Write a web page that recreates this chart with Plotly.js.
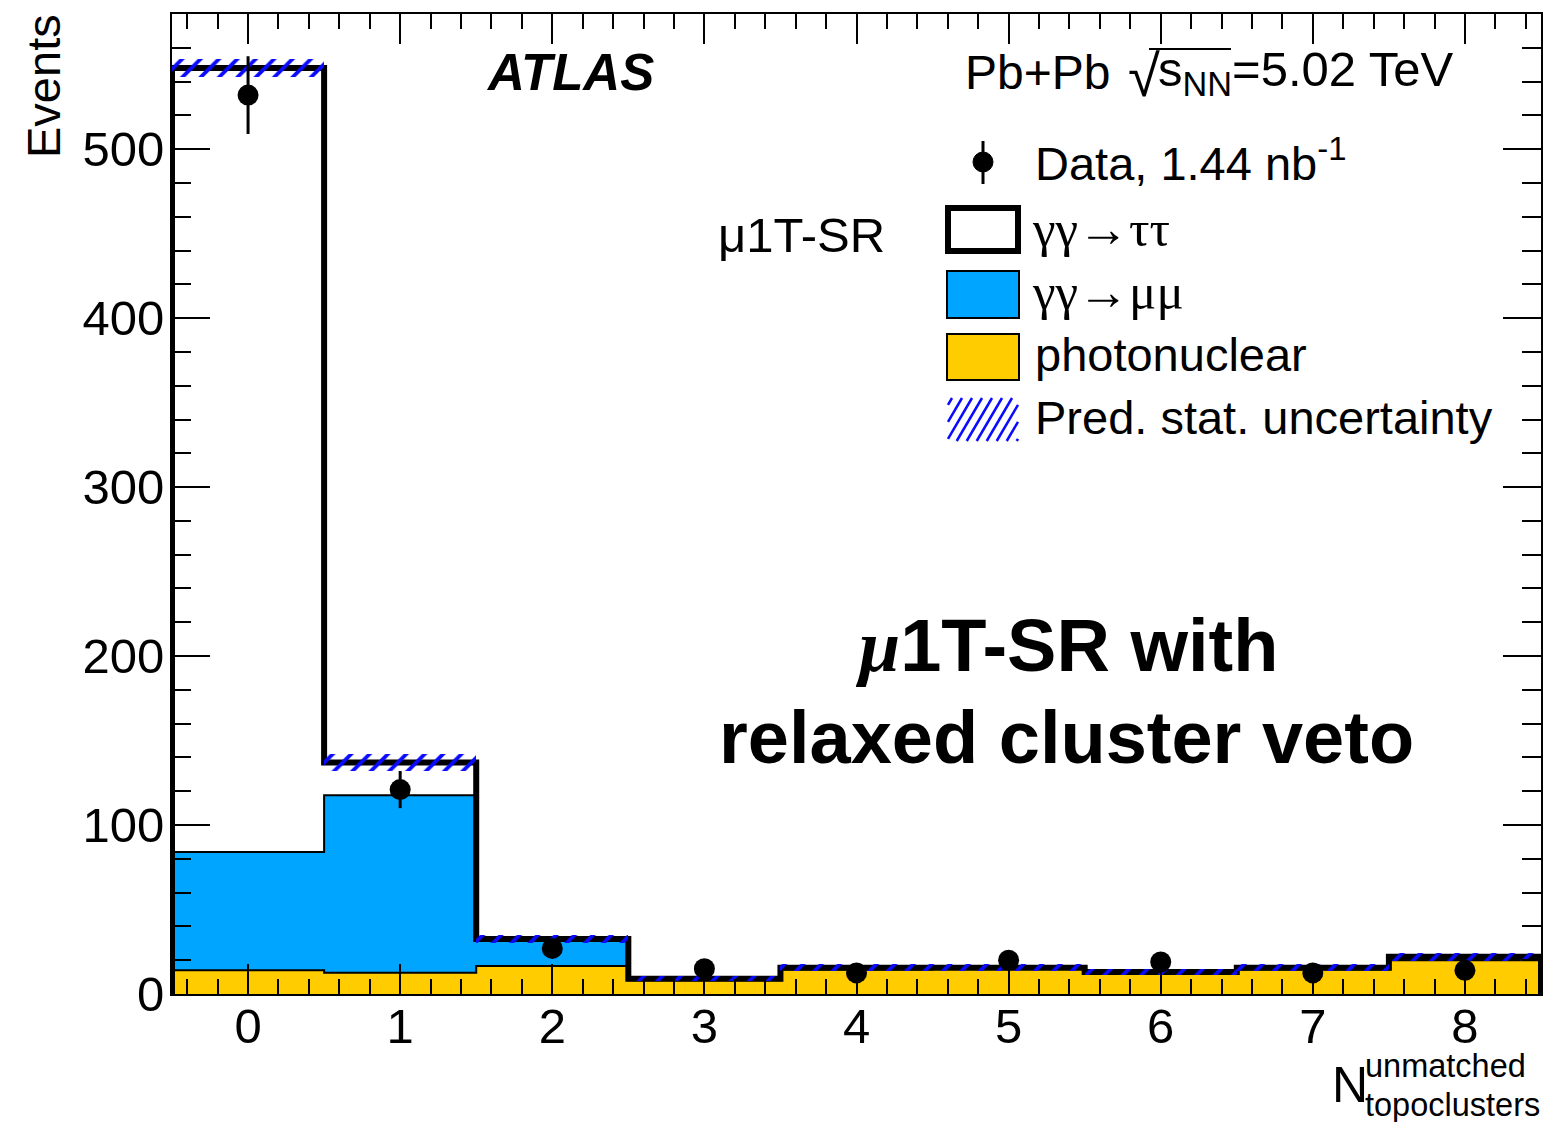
<!DOCTYPE html>
<html>
<head>
<meta charset="utf-8">
<script src="https://cdn.plot.ly/plotly-3.0.1.min.js"></script>
<style>html,body{margin:0;padding:0;background:#fff;}#chart{width:1547px;height:1122px;}</style>
</head>
<body>
<div id="chart"></div>
<script>
// ---- data ----
const bins = [0, 1, 2, 3, 4, 5, 6, 7, 8];
const photonuclear = [14, 12.6, 16.5, 8.2, 14.5, 15, 12.3, 14.5, 20];
const mumu = [70, 105, 15.5, 0.4, 0.5, 0.3, 0.4, 0.5, 1];
const tautau = [464, 19.4, 0.5, 0.4, 0.5, 0.2, 0.3, 0.5, 1];
const dataCounts = [532, 121, 27, 15, 12.5, 20, 19, 12.5, 14];
const dataErr = [23, 11, 5.2, 3.9, 3.5, 4.5, 4.4, 3.5, 3.7];
const predStatUnc = [5.3, 5, 2.5, 1.5, 2, 2, 2, 2, 2.5];
const yTickVals = [0, 100, 200, 300, 400, 500];

// ---- derived stacks ----
const lvl1 = photonuclear.slice();
const lvl2 = photonuclear.map((v, i) => v + mumu[i]);
const lvl3 = lvl2.map((v, i) => v + tautau[i]);
const uncBase = lvl3.map((v, i) => v - predStatUnc[i]);
const uncSize = predStatUnc.map(v => 2 * v);

function stepLine(vals) {
  const xs = [bins[0] - 0.5, bins[0] - 0.5];
  const ys = [0, vals[0]];
  for (let i = 1; i < bins.length; i++) { xs.push(bins[i] - 0.5); ys.push(vals[i]); }
  xs.push(bins[bins.length - 1] + 0.5); ys.push(vals[vals.length - 1]);
  xs.push(bins[bins.length - 1] + 0.5); ys.push(0);
  return {xs, ys};
}

const FONT = 'Liberation Sans, Arial, Helvetica, sans-serif';
const SERIF = 'Liberation Serif, Times New Roman, serif';
const BLUE = '#00a5ff';
const YELLOW = '#ffcc00';
const HATCH = '#0a0aff';

const s1 = stepLine(lvl1), s2 = stepLine(lvl2), s3 = stepLine(lvl3);

const traces = [
  {type: 'bar', x: bins, y: photonuclear, base: bins.map(() => 0), width: 1,
   marker: {color: YELLOW, line: {width: 0}}, name: 'photonuclear', hoverinfo: 'skip'},
  {type: 'bar', x: bins, y: mumu, base: lvl1, width: 1,
   marker: {color: BLUE, line: {width: 0}}, name: 'γγ→μμ', hoverinfo: 'skip'},
  {type: 'bar', x: bins, y: tautau, base: lvl2, width: 1,
   marker: {color: '#ffffff', line: {width: 0}}, name: 'γγ→ττ', hoverinfo: 'skip'},
  {type: 'scatter', mode: 'lines', x: s1.xs, y: s1.ys, line: {color: 'black', width: 2, shape: 'hv'}, hoverinfo: 'skip'},
  {type: 'scatter', mode: 'lines', x: s2.xs, y: s2.ys, line: {color: 'black', width: 2, shape: 'hv'}, hoverinfo: 'skip'},
  {type: 'scatter', mode: 'lines', x: s3.xs, y: s3.ys, line: {color: 'black', width: 6, shape: 'hv'}, hoverinfo: 'skip'},
  {type: 'bar', x: bins, y: uncSize, base: uncBase, width: 1, xaxis: 'x2', yaxis: 'y2',
   marker: {color: 'rgba(0,0,0,0)', line: {width: 0},
            pattern: {shape: '/', fgcolor: HATCH, fgopacity: 1, bgcolor: 'rgba(0,0,0,0)', size: 13, solidity: 0.3, fillmode: 'overlay'}},
   name: 'Pred. stat. uncertainty', hoverinfo: 'skip'},
  {type: 'scatter', mode: 'markers', x: bins, y: dataCounts, xaxis: 'x2', yaxis: 'y2',
   marker: {color: 'black', size: 21},
   error_y: {type: 'data', array: dataErr, visible: true, color: 'black', thickness: 3, width: 0},
   name: 'Data', cliponaxis: false, hoverinfo: 'skip'}
];

// pixel -> paper helpers (plot area 172..1541 x 14..994)
const L = 172, R = 1541, T = 14, B = 994;
const px = x => (x - L) / (R - L);
const py = y => (B - y) / (B - T);

const ann = (text, x, y, size, opts = {}) => Object.assign({
  text: text, xref: 'paper', yref: 'paper', x: px(x), y: py(y),
  xanchor: 'left', yanchor: 'middle', showarrow: false,
  font: {family: FONT, size: size, color: 'black'}
}, opts);

const annotations = [
  ann('<b><i>ATLAS</i></b>', 570, 73, 51, {xanchor: 'center'}),
  ann('Pb+Pb', 963, 73, 48),
  ann('√', 1126, 76, 58),
  ann('s<sub>NN</sub>=5.02 TeV', 1156, 73, 49),
  ann('Data, 1.44 nb<sup>-1</sup>', 1033, 160, 47),
  ann('μ1T-SR', 716, 235, 49),
  ann('γγ→ττ', 1030, 229, 51, {font: {family: SERIF, size: 51, color: 'black'}}),
  ann('γγ→μμ', 1030, 292, 51, {font: {family: SERIF, size: 51, color: 'black'}}),
  ann('photonuclear', 1033, 355, 47),
  ann('Pred. stat. uncertainty', 1033, 418, 47),
  ann('<b><i style="font-family:Liberation Serif">μ</i>1T-SR with</b>', 1066, 645, 74, {xanchor: 'center'}),
  ann('<b>relaxed cluster veto</b>', 1066, 737, 74, {xanchor: 'center'}),
  ann('Events', 43, 86, 47, {xanchor: 'center', textangle: -90}),
  ann('N', 1330, 1085, 50),
  ann('unmatched', 1363, 1066, 32.5),
  ann('topoclusters', 1363, 1105, 32.5)
];

const rectPx = (x0, y0, x1, y1, style) => Object.assign({
  type: 'rect', xref: 'paper', yref: 'paper', x0: px(x0), x1: px(x1), y0: py(y1), y1: py(y0)
}, style);
const linePx = (x0, y0, x1, y1, color, width) => ({
  type: 'line', xref: 'paper', yref: 'paper', x0: px(x0), x1: px(x1), y0: py(y0), y1: py(y1),
  line: {color: color, width: width}
});

const shapes = [
  // data legend marker
  {type: 'circle', xref: 'paper', yref: 'paper', x0: px(973), x1: px(993), y0: py(172), y1: py(152),
   fillcolor: 'black', line: {color: 'black', width: 1}},
  linePx(983, 141, 983, 184, 'black', 3),
  // tau box
  rectPx(948, 208, 1018, 251, {fillcolor: 'white', line: {color: 'black', width: 6}}),
  // mumu box
  rectPx(947, 271, 1019, 318, {fillcolor: BLUE, line: {color: 'black', width: 2}}),
  // photonuclear box
  rectPx(947, 334, 1019, 380, {fillcolor: YELLOW, line: {color: 'black', width: 2}}),
  // sqrt overline
  linePx(1149, 49, 1231, 49, 'black', 2)
];
// hatch legend box lines (clipped to box 948..1018 x 398..441)
(function () {
  const bx0 = 948, bx1 = 1018, by0 = 398, by1 = 441;
  const h = by1 - by0, slope = 1.7;
  const dx = h / slope;
  for (let xb = bx0 - dx + 4; xb < bx1; xb += 10) {
    let x0 = xb, y0 = by1, x1 = xb + dx, y1 = by0;
    if (x0 < bx0) { y0 = by1 - (bx0 - x0) * slope; x0 = bx0; }
    if (x1 > bx1) { y1 = by0 + (x1 - bx1) * slope; x1 = bx1; }
    if (x1 > x0) shapes.push(linePx(x0, y0, x1, y1, HATCH, 2.5));
  }
})();

const axisCommon = {
  showline: true, linecolor: 'black', linewidth: 2, mirror: 'allticks',
  ticks: 'inside', tickcolor: 'black', tickwidth: 2,
  showgrid: false, zeroline: false,
  tickfont: {family: FONT, size: 49, color: 'black'}
};

const layout = {
  width: 1547, height: 1122,
  margin: {l: L, r: 1547 - R, t: T, b: 1122 - B, pad: 0},
  paper_bgcolor: 'white', plot_bgcolor: 'white',
  showlegend: false,
  barmode: 'overlay', bargap: 0,
  xaxis: Object.assign({}, axisCommon, {
    range: [-0.5, 8.5], tickmode: 'array', tickvals: bins, ticktext: bins.map(String), ticklen: 30,
    minor: {dtick: 0.2, tick0: 0, ticklen: 15, tickwidth: 2, tickcolor: 'black', ticks: 'inside', showgrid: false},
    ticklabelstandoff: -12
  }),
  yaxis: Object.assign({}, axisCommon, {
    range: [0, 580], tickmode: 'array', tickvals: yTickVals, ticktext: yTickVals.map(String), ticklen: 38,
    minor: {dtick: 20, tick0: 0, ticklen: 19, tickwidth: 2, tickcolor: 'black', ticks: 'inside', showgrid: false},
    ticklabelstandoff: -4
  }),
  xaxis2: {overlaying: 'x', range: [-0.5, 8.5], visible: false, showgrid: false, zeroline: false},
  yaxis2: {overlaying: 'y', range: [0, 580], visible: false, showgrid: false, zeroline: false},
  annotations: annotations,
  shapes: shapes
};

Plotly.newPlot('chart', traces, layout, {staticPlot: true, displayModeBar: false});
</script>
</body>
</html>
